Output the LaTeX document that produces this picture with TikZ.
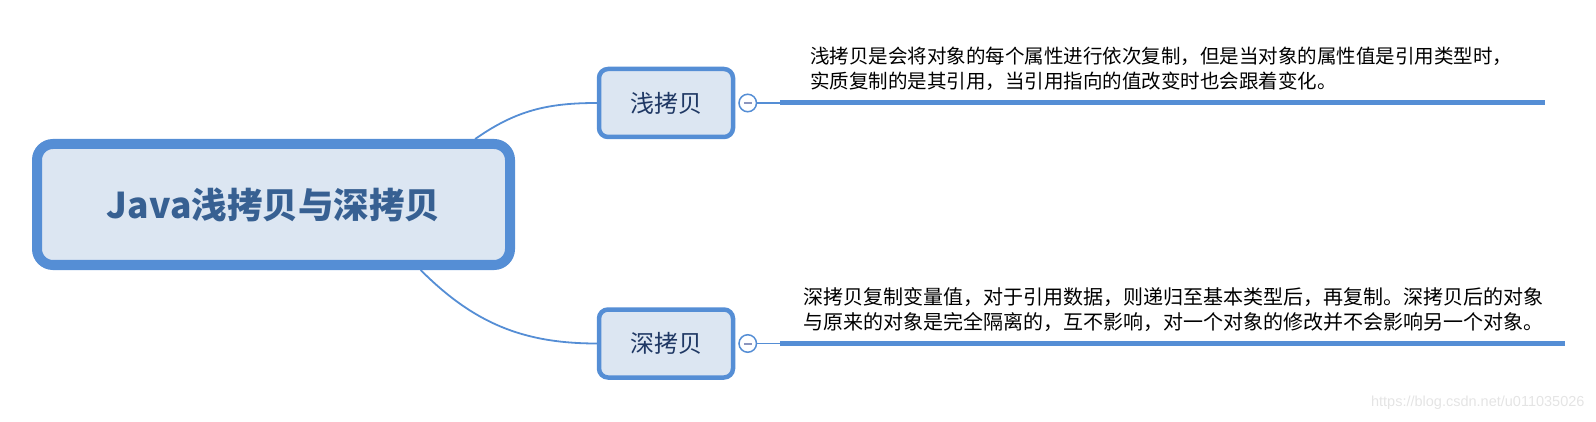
\documentclass[tikz,border=0pt]{standalone}
\usepackage{fontspec}
\usepackage{tikz}
\usetikzlibrary{positioning}
\newfontfamily\cjk{Noto Sans CJK SC}
\newfontfamily\wmfont{Liberation Sans}
\definecolor{rootfill}{RGB}{220,230,242}
\definecolor{linkblue}{RGB}{85,142,213}
\definecolor{roottext}{RGB}{55,96,146}
\definecolor{branchtext}{RGB}{31,56,100}
\definecolor{minusgray}{RGB}{140,150,190}
\definecolor{marktext}{RGB}{228,228,228}

\begin{document}
\begin{tikzpicture}[x=1pt,y=1pt,
    rootbox/.style={draw=linkblue,fill=rootfill,line width=10pt,rounded corners=16pt,
        minimum width=473pt,minimum height=121pt,inner sep=0pt,text=roottext,
        font=\cjk\bfseries\fontsize{35.5}{40}\selectfont},
    branch/.style={draw=linkblue,fill=rootfill,line width=4.5pt,rounded corners=9pt,
        minimum width=134pt,minimum height=68pt,inner sep=0pt,text=branchtext,
        font=\cjk\fontsize{24}{28}\selectfont},
    fold/.style={circle,draw=linkblue,fill=white,line width=1.5pt,minimum size=17.5pt,inner sep=0pt,
        path picture={\draw[minusgray,line width=2pt] (path picture bounding box.center) +(-4pt,0) -- +(4pt,0);}},
    link/.style={draw=linkblue,line width=1.8pt},
    bar/.style={draw=linkblue,line width=5pt},
    note/.style={text=black,inner sep=0pt,font=\cjk\fontsize{19.5}{25}\selectfont}]
\useasboundingbox (0,0) rectangle (1596,-422);

\node[rootbox] (root) at (273.5,-204.5) {Java浅拷贝与深拷贝};

\foreach \name/\y/\txt/\len in {shallow/103/浅拷贝/1545, deep/343.5/深拷贝/1565} {
    \node[branch] (\name) at (666,-\y) {\txt};
    \node[fold,right=3pt of \name] (\name fold) {};
    \coordinate (\name bar) at (780,-\y);
    \coordinate (\name end) at (\len,-\y);
    \draw[link] (\name fold) -- (\name bar);
    \draw[bar] (\name bar) -- (\name end);
}

\draw[link] (root.18) to[out=35,in=180] (shallow.west);
\draw[link] (root.-24) to[out=-45,in=180] (deep.west);

\node[note,align=left,anchor=west] (shallow note) at (810,-68.5)
    {浅拷贝是会将对象的每个属性进行依次复制，但是当对象的属性值是引用类型时，\\实质复制的是其引用，当引用指向的值改变时也会跟着变化。};
\node[note,align=center,font=\cjk\fontsize{20}{25}\selectfont] (deep note) at (1173,-309.5)
    {深拷贝复制变量值，对于引用数据，则递归至基本类型后，再复制。深拷贝后的对象\\与原来的对象是完全隔离的，互不影响，对一个对象的修改并不会影响另一个对象。};

\node[anchor=east,text=marktext,font=\wmfont\fontsize{14.5}{16}\selectfont] (mark) at (1588,-403)
    {https://blog.csdn.net/u011035026};
\end{tikzpicture}
\end{document}
